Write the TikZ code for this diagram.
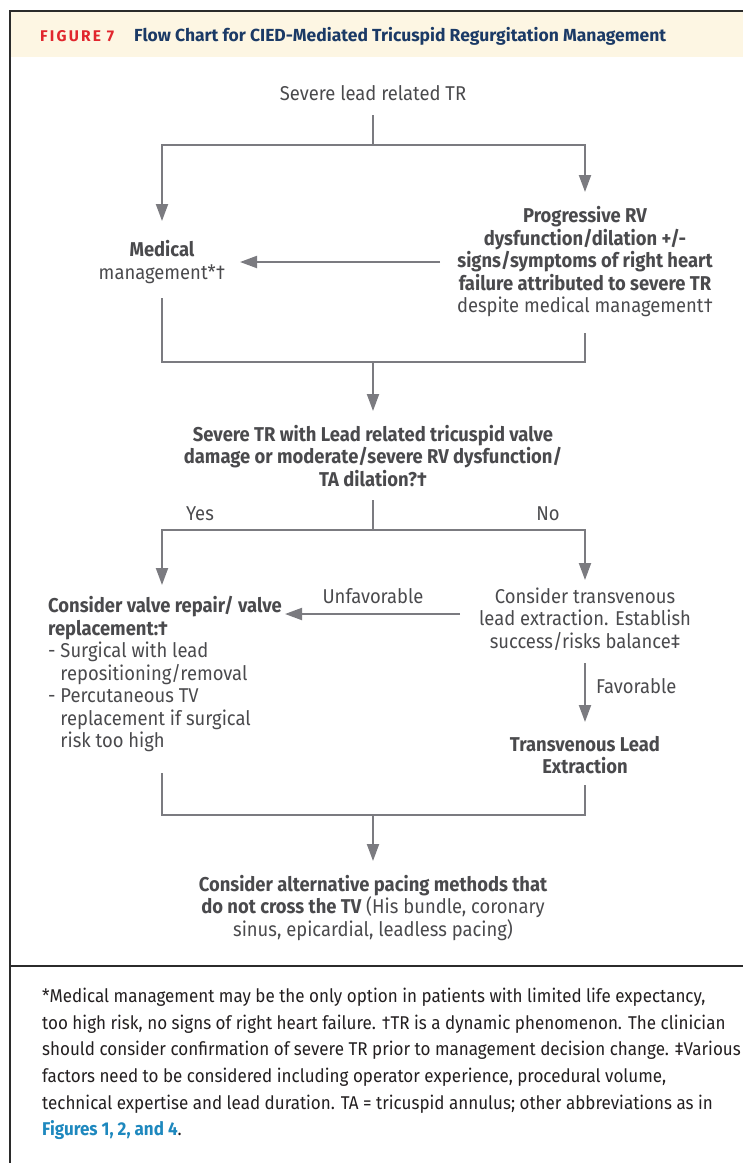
\documentclass[tikz,border=0pt]{standalone}
\usepackage{fontspec}
\setmainfont{Fira Sans}[FakeStretch=0.92]
\newfontfamily\hdrfont{Fira Sans}
\usetikzlibrary{arrows.meta}
\definecolor{txt}{HTML}{4A4A4D}
\definecolor{foot}{HTML}{231F20}
\definecolor{lncol}{HTML}{7B7B80}
\definecolor{band}{HTML}{FDF6E3}
\definecolor{figred}{HTML}{E1262D}
\definecolor{navy}{HTML}{1B3A66}
\definecolor{linkblue}{HTML}{1E88BE}
\definecolor{frame}{HTML}{2B2B2B}
\tikzset{
  ln/.style={draw=lncol, line width=2pt},
  arr/.style={ln, -{Triangle[length=17pt,width=12pt]}},
  flow/.style={text=txt, font=\fontsize{20}{22.5}\selectfont, inner sep=0pt, align=center},
  lbl/.style={text=txt, font=\fontsize{20}{22.5}\selectfont, inner sep=0pt},
  foottxt/.style={text=foot, font=\fontsize{18.5}{26.6}\selectfont, inner sep=0pt, align=left, anchor=north west}
}
\begin{document}
\begin{tikzpicture}[x=1pt,y=-1pt]
\useasboundingbox (0,0) rectangle (743,1163);
% frame and header
\fill[band] (10,11) rectangle (743,57);
\draw[frame, line width=2pt] (9.5,1163) -- (9.5,10.5) -- (743,10.5);
\draw[frame, line width=2pt] (9.5,966) -- (743,966);
\node[anchor=base west, inner sep=0pt, text=figred, font=\hdrfont\fontsize{15.5}{18}\selectfont\bfseries\addfontfeatures{LetterSpace=14}] (fig) at (40,41) {FIGURE 7};
\node[anchor=base west, inner sep=0pt, text=navy, font=\hdrfont\fontsize{17.5}{20}\selectfont\bfseries] (title) at (134,41) {Flow Chart for CIED-Mediated Tricuspid Regurgitation Management};

% nodes
\node[flow] (top) at (373,93) {Severe lead related TR};
\node[flow] (med) at (162,262) {\bfseries Medical\\management*†};
\node[flow] (rv) at (585,262) {\bfseries Progressive RV\\\bfseries dysfunction/dilation +/-\\\bfseries signs/symptoms of right heart\\\bfseries failure attributed to severe TR\\despite medical management†};
\node[flow] (q) at (373,456) {\bfseries Severe TR with Lead related tricuspid valve\\\bfseries damage or moderate/severe RV dysfunction/\\\bfseries TA dilation?†};
\node[flow, align=left, anchor=west] (valve) at (48,674) {\bfseries Consider valve repair/ valve\\\bfseries replacement:†\\- Surgical with lead\\\phantom{- }repositioning/removal\\- Percutaneous TV\\\phantom{- }replacement if surgical\\\phantom{- }risk too high};
\node[flow] (tle) at (585,619) {Consider transvenous\\lead extraction. Establish\\success/risks balance‡};
\node[flow] (ext) at (585,755) {\bfseries Transvenous Lead\\\bfseries Extraction};
\node[flow] (alt) at (373,908) {\bfseries Consider alternative pacing methods that\\{\bfseries do not cross the TV} (His bundle, coronary\\sinus, epicardial, leadless pacing)};

% labels
\node[lbl] (yes) at (200,514) {Yes};
\node[lbl] (no) at (548,514) {No};
\node[lbl] (unf) at (373,596) {Unfavorable};
\node[lbl, anchor=west] (fav) at (596,686) {Favorable};

% coordinates
\coordinate (j1) at (373,145);
\coordinate (j2) at (373,362);
\coordinate (j3) at (373,530);
\coordinate (j4) at (373,815);
\coordinate (medIn) at (162,221);
\coordinate (rvIn) at (585,192);
\coordinate (rvL) at (440,262);
\coordinate (medR) at (240,262);
\coordinate (valveIn) at (162,585);
\coordinate (tleIn) at (585,580);
\coordinate (tleL) at (460,614);
\coordinate (valveR) at (285,614);
\coordinate (extIn) at (585,722);
\coordinate (altIn) at (373,861);

% connectors
\draw[ln] (top.south |- 0,115) -- (j1);
\draw[arr] (j1) -| (medIn);
\draw[arr] (j1) -| (rvIn);
\draw[arr] (rvL) -- (medR);
\draw[ln] (med.south |- 0,298) |- (j2);
\draw[ln] (rv.south |- 0,333) |- (j2);
\draw[arr] (j2) -- (altIn |- 0,411);
\draw[ln] (q.south |- 0,500) -- (j3);
\draw[arr] (j3) -| (valveIn);
\draw[arr] (j3) -| (tleIn);
\draw[arr] (tleL) -- (valveR);
\draw[arr] (tle.south |- 0,663) -- (extIn);
\draw[ln] (162,773) |- (j4);
\draw[ln] (ext.south |- 0,785) |- (j4);
\draw[arr] (j4) -- (altIn);

% footer
\node[foottxt] (fn) at (42,988) {*Medical management may be the only option in patients with limited life expectancy,\\too high risk, no signs of right heart failure. †TR is a dynamic phenomenon. The clinician\\should consider confirmation of severe TR prior to management decision change. ‡Various\\factors need to be considered including operator experience, procedural volume,\\technical expertise and lead duration. TA = tricuspid annulus; other abbreviations as in\\{\color{linkblue}\bfseries Figures 1, 2, and 4}.};
\end{tikzpicture}
\end{document}
